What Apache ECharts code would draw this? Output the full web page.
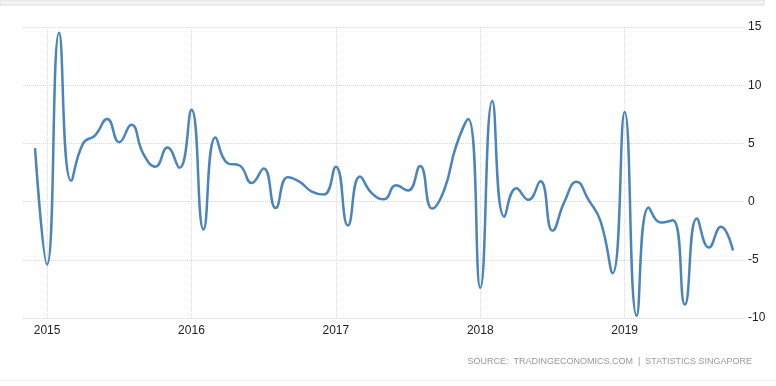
<!DOCTYPE html>
<html>
<head>
<meta charset="utf-8">
<script src="https://cdn.jsdelivr.net/npm/echarts@6/dist/echarts.min.js"></script>
<style>
html,body{margin:0;padding:0;background:#fff;}
#c{width:776px;height:386px;}
</style>
</head>
<body>
<div id="c"></div>
<script>
// Monthly categories: Nov 2014 .. Nov 2019 (first and last are axis padding)
const startYear = 2014, startMonth = 11;
const monthCount = 61;
// Values Dec 2014 .. Oct 2019
const values = [
  4.6,
  -5.4, 14.5, 1.8, 5.0, 5.7, 7.1, 5.1, 6.6, 4.1, 3.0, 4.65, 2.9,
  7.9, -2.4, 5.5, 3.3, 3.1, 1.6, 2.85, -0.55, 2.1, 1.7, 0.85, 0.6,
  3.0, -2.05, 2.15, 0.7, 0.2, 1.4, 0.95, 3.05, -0.6, 1.0, 4.8, 7.1,
  -7.4, 8.65, -1.3, 1.15, 0.15, 1.75, -2.5, 0.0, 1.7, 0.15, -1.7, -6.15,
  7.7, -9.8, -0.5, -1.8, -1.6, -8.85, -1.45, -3.95, -2.15, -4.2
];
const yearLabels = ['2015', '2016', '2017', '2018', '2019'];
const yTicks = [-10, -5, 0, 5, 10, 15];
const sourceText = 'SOURCE:  TRADINGECONOMICS.COM  |  STATISTICS SINGAPORE';

const categories = [];
for (let i = 0; i < monthCount; i++) {
  const t = (startMonth - 1) + i;
  const y = startYear + Math.floor(t / 12);
  const m = (t % 12) + 1;
  categories.push(y + '-' + (m < 10 ? '0' + m : m));
}
const seriesData = [null].concat(values);
while (seriesData.length < monthCount) seriesData.push(null);

const isJan = (idx) => categories[idx].slice(5) === '01';

const chart = echarts.init(document.getElementById('c'), null, {renderer: 'canvas'});
chart.setOption({
  animation: false,
  backgroundColor: '#ffffff',
  grid: {left: 23, right: 31, top: 27, bottom: 68, containLabel: false},
  xAxis: {
    type: 'category',
    data: categories,
    boundaryGap: false,
    axisLine: {show: false},
    axisTick: {show: false},
    axisLabel: {
      interval: (idx) => isJan(idx),
      formatter: (v) => yearLabels.indexOf(v.slice(0, 4)) >= 0 ? v.slice(0, 4) : '',
      color: '#222',
      fontFamily: 'Liberation Sans, Arial, sans-serif',
      fontSize: 12,
      margin: 7
    },
    splitLine: {
      show: true,
      interval: (idx) => isJan(idx),
      lineStyle: {color: '#dcdcdc', type: 'dotted', width: 1}
    }
  },
  yAxis: {
    type: 'value',
    position: 'right',
    min: yTicks[0],
    max: yTicks[yTicks.length - 1],
    interval: 5,
    axisLine: {show: false},
    axisTick: {show: false},
    axisLabel: {
      color: '#222',
      fontFamily: 'Liberation Sans, Arial, sans-serif',
      fontSize: 12,
      margin: 3
    },
    splitLine: {lineStyle: {color: '#d8d8d8', type: 'dotted', width: 1}}
  },
  series: [{
    type: 'line',
    data: seriesData,
    smooth: 0.5,
    showSymbol: false,
    connectNulls: false,
    lineStyle: {color: '#4a84bd', width: 2.5},
    itemStyle: {color: '#4a84bd'}
  }],
  graphic: [
    {type: 'rect', shape: {x: 0, y: 0, width: 764, height: 5}, style: {fill: '#f3f3f3', stroke: '#dcdcdc', lineWidth: 1}, silent: true},
    {type: 'rect', shape: {x: 0, y: 380, width: 776, height: 1}, style: {fill: '#efefef'}, silent: true},
    {type: 'text', right: 24, top: 357,
     style: {text: sourceText, fill: '#999', font: '9px Liberation Sans, Arial, sans-serif'}}
  ]
});
</script>
</body>
</html>
